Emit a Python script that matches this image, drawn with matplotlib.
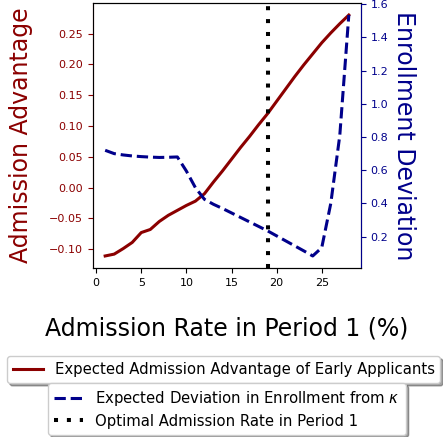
import matplotlib
matplotlib.use('Agg')
import matplotlib.pyplot as plt

# Admission rate in period 1 (%)
rates = [1, 2, 3, 4, 5, 6, 7, 8, 9, 10, 11, 12, 13, 14,
         15, 16, 17, 18, 19, 20, 21, 22, 23, 24, 25, 26, 27, 28]

# Expected admission advantage of early applicants
advantage = [-0.111, -0.108, -0.099, -0.089, -0.073, -0.068, -0.055,
             -0.045, -0.037, -0.029, -0.022, -0.010, 0.009, 0.027,
             0.046, 0.065, 0.083, 0.102, 0.120, 0.140, 0.160, 0.180,
             0.199, 0.217, 0.235, 0.251, 0.266, 0.280]

# Expected deviation in enrollment from kappa
deviation = [0.720, 0.700, 0.692, 0.686, 0.682, 0.679, 0.677, 0.678,
             0.680, 0.595, 0.495, 0.425, 0.395, 0.370, 0.343, 0.316,
             0.289, 0.262, 0.235, 0.205, 0.175, 0.145, 0.115, 0.084,
             0.134, 0.400, 0.810, 1.534]

optimal_rate = 19

red = '#8B0000'
blue = '#00008B'

fig = plt.figure(figsize=(4.43, 4.37), dpi=100)
ax1 = fig.add_axes([0.2099, 0.3867, 0.605, 0.6064])
ax2 = ax1.twinx()

ax1.plot(rates, advantage, color=red, lw=2.2,
         label='Expected Admission Advantage of Early Applicants')
ax2.plot(rates, deviation, color=blue, lw=2.2, ls='--',
         label=r'Expected Deviation in Enrollment from $\kappa$')
ax2.axvline(optimal_rate, color='black', lw=2.9, ls=(0, (1, 2.2)),
            label='Optimal Admission Rate in Period 1')

ax1.set_xlabel('Admission Rate in Period 1 (%)', fontsize=17)
ax1.xaxis.set_label_coords(0.5, -0.183)
ax1.set_ylabel('Admission Advantage', fontsize=17, color=red)
ax1.yaxis.set_label_coords(-0.225, 0.5)
ax2.set_ylabel('Enrollment Deviation', fontsize=17, color=blue,
               rotation=270, va='bottom')
ax2.yaxis.set_label_coords(1.115, 0.5)

ax1.tick_params(axis='x', labelsize=8)
ax1.tick_params(axis='y', labelsize=8, colors=red)
ax2.tick_params(axis='y', labelsize=8, colors=blue)
ax1.spines['left'].set_color(red)
ax2.spines['right'].set_color(blue)

# two stacked legends below the plot, one per axis
leg1 = ax1.legend(loc='upper center', bbox_to_anchor=(0.505, 0.185),
                  bbox_transform=fig.transFigure, borderaxespad=0,
                  fontsize=10.7, labelspacing=0.4, shadow=True)
leg2 = ax2.legend(loc='upper center', bbox_to_anchor=(0.512, 0.124),
                  bbox_transform=fig.transFigure, borderaxespad=0,
                  fontsize=10.7, labelspacing=0.4, shadow=True)

fig.savefig('out.png', dpi=100)
